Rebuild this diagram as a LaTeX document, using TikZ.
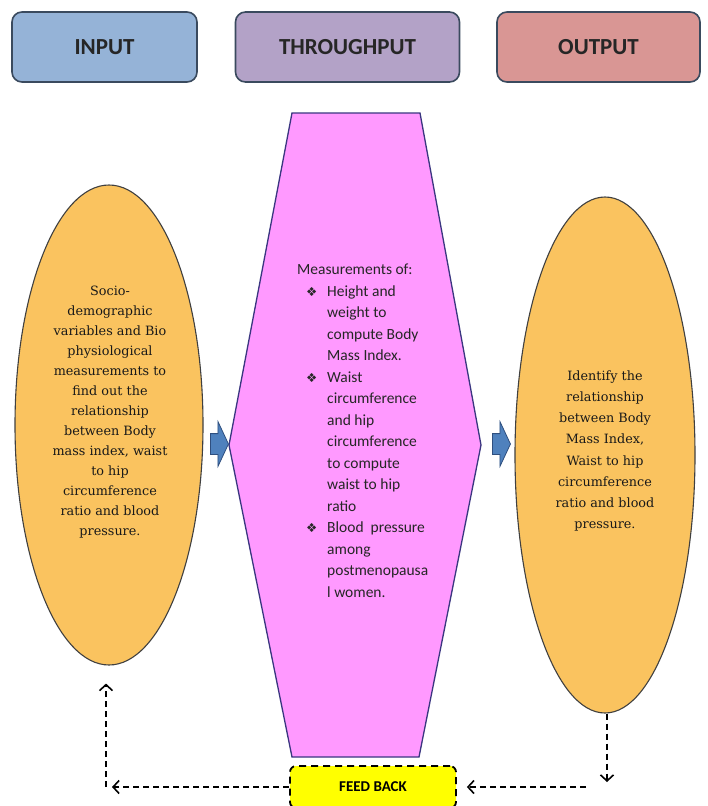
\documentclass[tikz,border=0pt]{standalone}
\usepackage{fontspec}
\setmainfont{DejaVu Serif}
\newfontfamily\carlito{Carlito}
\newfontfamily\dejasans{DejaVu Sans}
\usetikzlibrary{shapes.geometric,shapes.arrows,arrows.meta}
\definecolor{hdrborder}{HTML}{3A4A5E}
\definecolor{inpfill}{HTML}{95B3D7}
\definecolor{thrfill}{HTML}{B3A2C7}
\definecolor{outfill}{HTML}{D99694}
\definecolor{ellfill}{HTML}{FAC35F}
\definecolor{hexfill}{HTML}{FF99FF}
\definecolor{hexborder}{HTML}{3A3680}
\definecolor{arrfill}{HTML}{4F81BD}
\definecolor{arrborder}{HTML}{2F4F7F}
\definecolor{fbfill}{HTML}{FFFF00}
\newcommand\bulletmark{\makebox[21pt][l]{\dejasans\fontsize{12.5}{12.5}\selectfont ❖}}
\begin{document}
\begin{tikzpicture}[x=1pt,y=-1pt,
  hdr/.style={draw=hdrborder, line width=1.6pt, rounded corners=10pt, minimum height=70pt,
    font=\carlito\bfseries\fontsize{23}{26}\selectfont, text=black!85},
  ell/.style={ellipse, draw=black!75, line width=1.1pt, fill=ellfill, inner sep=0pt},
  elltext/.style={align=center, inner sep=0pt, text=black!90},
  barrow/.style={single arrow, draw=arrborder, line width=0.8pt, fill=arrfill,
    inner xsep=0pt, inner ysep=10pt, minimum height=18pt,
    single arrow head extend=12pt, single arrow tip angle=130},
  fbl/.style={draw=black, dash pattern=on 6pt off 4pt, line width=1.8pt,
    -{Straight Barb[length=6pt,width=13pt,line width=1.6pt]}},
  fbbox/.style={draw=black, line width=1.8pt, dash pattern=on 7pt off 5pt, fill=fbfill,
    rounded corners=6pt, minimum width=166pt, minimum height=42pt,
    font=\carlito\bfseries\fontsize{15}{17}\selectfont}
]
\useasboundingbox (0,0) rectangle (707,806);
\fill[white] (0,0) rectangle (707,806);

% header boxes
\node[hdr, fill=inpfill, minimum width=185pt] (hin) at (104.5,47) {INPUT};
\node[hdr, fill=thrfill, minimum width=224pt] (hth) at (347.5,47) {THROUGHPUT};
\node[hdr, fill=outfill, minimum width=203pt] (hout) at (598.5,47) {OUTPUT};

% hexagon
\coordinate (h1) at (292,113);
\coordinate (h2) at (420,113);
\coordinate (h3) at (481,445);
\coordinate (h4) at (419,757);
\coordinate (h5) at (292,757);
\coordinate (h6) at (229,445);
\draw[fill=hexfill, draw=hexborder, line width=1.3pt] (h1) -- (h2) -- (h3) -- (h4) -- (h5) -- (h6) -- cycle;
\node[anchor=north west, inner sep=0pt, align=left,
  font=\carlito\fontsize{15.5}{21.5}\selectfont, text=black!85] (thr) at (297,264) {%
Measurements of:\\
\hspace*{9pt}\bulletmark Height and\\
\hspace*{30pt}weight to\\
\hspace*{30pt}compute Body\\
\hspace*{30pt}Mass  Index.\\
\hspace*{9pt}\bulletmark Waist\\
\hspace*{30pt}circumference\\
\hspace*{30pt}and hip\\
\hspace*{30pt}circumference\\
\hspace*{30pt}to compute\\
\hspace*{30pt}waist to hip\\
\hspace*{30pt}ratio\\
\hspace*{9pt}\bulletmark Blood \ pressure\\
\hspace*{30pt}among\\
\hspace*{30pt}postmenopausa\\
\hspace*{30pt}l women.};

% ellipses
\node[ell, minimum width=188pt, minimum height=480pt] (inp) at (109,425) {};
\node[elltext, font=\fontsize{12.8}{20}\selectfont] (inptext) at (110,412) {Socio-\\demographic\\variables and Bio\\physiological\\measurements to\\find out the\\relationship\\between Body\\mass index, waist\\to hip\\circumference\\ratio and blood\\pressure.};
\node[ell, minimum width=180pt, minimum height=516pt] (out) at (605,455) {};
\node[elltext, font=\fontsize{12.8}{21.2}\selectfont] (outtext) at (605,451) {Identify the\\relationship\\between Body\\Mass Index,\\Waist to hip\\circumference\\ratio and blood\\pressure.};

% block arrows
\node[barrow] (a1) at (217,444) {};
\node[barrow] (a2) at (499,444) {};

% feedback
\node[fbbox] (fb) at (373,787) {FEED BACK};
\coordinate (dr) at (607,782);
\coordinate (fr) at (586,787);
\coordinate (fl) at (112,787);
\coordinate (ul) at (106,787);
\draw[fbl] (out.south -| dr) -- (dr);
\draw[fbl, shorten >=10pt] (fr) -- (fb.east);
\draw[fbl] (fb.west) -- (fl);
\draw[fbl, shorten >=18pt] (ul) -- (ul |- inp.south);
\end{tikzpicture}
\end{document}
